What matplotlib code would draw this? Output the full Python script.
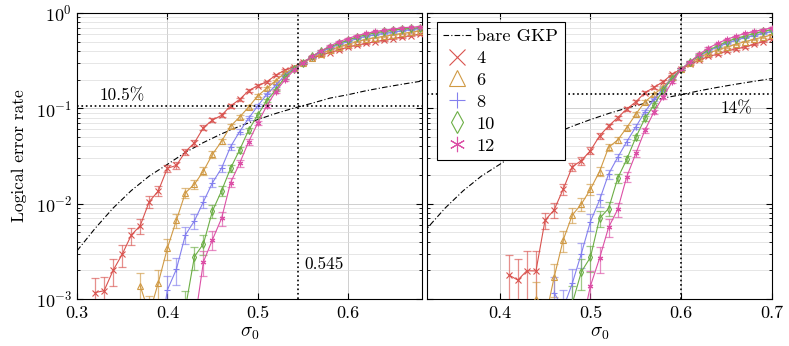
import numpy as np
import matplotlib
matplotlib.use('Agg')
import matplotlib.pyplot as plt
from matplotlib.lines import Line2D

plt.rcParams['font.family'] = 'serif'
plt.rcParams['font.serif'] = ['cmr10', 'DejaVu Serif']
plt.rcParams['mathtext.fontset'] = 'cm'
plt.rcParams['axes.formatter.use_mathtext'] = True
plt.rcParams['font.size'] = 12

# ---- data ----
sizes = ['4', '6', '8', '10', '12']
colors = ['#d9534f', '#d09a45', '#8480ee', '#6cae45', '#dc50a6']
markers = ['x', '^', '+', 'd', (6, 2, 0)]

# bare GKP curve
gkp_sigma = [0.30, 0.32, 0.34, 0.36, 0.38, 0.40, 0.42, 0.44, 0.46, 0.48, 0.50,
             0.52, 0.54, 0.56, 0.58, 0.60, 0.62, 0.64, 0.66, 0.68, 0.70]
gkp_rate = [0.0032, 0.0055, 0.0090, 0.0137, 0.0195, 0.0258, 0.0345, 0.0438,
            0.0540, 0.0649, 0.0762, 0.0883, 0.1006, 0.113, 0.128, 0.139,
            0.153, 0.166, 0.179, 0.192, 0.2055]

# left panel
left_start = [0.32, 0.37, 0.39, 0.41, 0.43]
left_rates = [
    [1.17e-3, 1.22e-3, 2.0e-3, 2.94e-3, 4.66e-3, 5.9e-3, 0.0105, 0.0136, 0.0235,
     0.0252, 0.0351, 0.0436, 0.0627, 0.0755, 0.0845, 0.106, 0.124, 0.153, 0.173,
     0.19, 0.222, 0.252, 0.273, 0.305, 0.335, 0.36, 0.385, 0.41, 0.44, 0.46,
     0.48, 0.50, 0.52, 0.54, 0.56, 0.58, 0.60],
    [1.37e-3, 7e-4, 1.48e-3, 3.4e-3, 6.7e-3, 0.013, 0.016, 0.022, 0.033, 0.045,
     0.065, 0.081, 0.103, 0.135, 0.162, 0.195, 0.235, 0.265, 0.30, 0.34, 0.375,
     0.41, 0.44, 0.47, 0.50, 0.53, 0.55, 0.57, 0.59, 0.61, 0.63, 0.65],
    [3e-4, 1.24e-3, 2.05e-3, 4.7e-3, 6.6e-3, 0.0105, 0.0166, 0.0235, 0.0396,
     0.057, 0.0785, 0.106, 0.14, 0.174, 0.222, 0.262, 0.30, 0.345, 0.39, 0.43,
     0.47, 0.50, 0.54, 0.57, 0.59, 0.61, 0.63, 0.65, 0.67, 0.69],
    [6e-4, 8e-4, 2.78e-3, 3.8e-3, 8.4e-3, 0.0136, 0.0235, 0.0366, 0.059, 0.085,
     0.12, 0.156, 0.211, 0.258, 0.30, 0.35, 0.40, 0.44, 0.48, 0.52, 0.56, 0.59,
     0.62, 0.64, 0.66, 0.68, 0.69, 0.70],
    [5.5e-4, 2.46e-3, 4.2e-3, 7.0e-3, 0.0166, 0.0265, 0.0446, 0.0697, 0.106,
     0.15, 0.198, 0.25, 0.30, 0.35, 0.40, 0.45, 0.50, 0.54, 0.58, 0.61, 0.64,
     0.66, 0.68, 0.70, 0.71, 0.72],
]
left_shots = [5000, 5000, 5000, 5000, 5000]

# right panel
right_start = [0.41, 0.44, 0.46, 0.48, 0.49]
right_rates = [
    [1.79e-3, 1.58e-3, 1.98e-3, 1.97e-3, 6.7e-3, 8.6e-3, 0.0142, 0.0244, 0.0283,
     0.036, 0.0513, 0.0653, 0.0798, 0.0984, 0.117, 0.146, 0.166, 0.19, 0.229,
     0.257, 0.29, 0.32, 0.35, 0.37, 0.40, 0.42, 0.44, 0.47, 0.50, 0.54],
    [1.0e-3, 6e-4, 1.69e-3, 4.16e-3, 7.6e-3, 9.9e-3, 0.0142, 0.0217, 0.039,
     0.0466, 0.0627, 0.087, 0.117, 0.141, 0.166, 0.211, 0.257, 0.30, 0.34, 0.38,
     0.41, 0.44, 0.47, 0.50, 0.53, 0.56, 0.59],
    [1.16e-3, 8e-4, 1.46e-3, 3.0e-3, 6.5e-3, 0.0109, 0.0205, 0.0306, 0.0447,
     0.064, 0.092, 0.124, 0.161, 0.21, 0.257, 0.31, 0.355, 0.40, 0.44, 0.48,
     0.52, 0.55, 0.58, 0.61, 0.64],
    [9e-4, 1.93e-3, 2.74e-3, 7.0e-3, 8.9e-3, 0.0185, 0.0292, 0.0497, 0.0785,
     0.108, 0.156, 0.205, 0.257, 0.31, 0.36, 0.41, 0.45, 0.50, 0.54, 0.57, 0.61,
     0.64, 0.67],
    [5e-4, 1.37e-3, 2.67e-3, 5.65e-3, 8.7e-3, 0.0192, 0.0337, 0.059, 0.092,
     0.132, 0.19, 0.257, 0.31, 0.37, 0.43, 0.48, 0.53, 0.57, 0.61, 0.64, 0.67,
     0.70],
]
right_shots_red = [1400, 1400, 1400, 1400]
right_shots = 4000


def draw_panel(ax, starts, rates, shots, first_shots=None):
    ax.set_yscale('log')
    for i in range(len(sizes)):
        p = np.array(rates[i])
        x = np.round(starts[i] + 0.01 * np.arange(len(p)), 2)
        n = np.full(len(p), float(shots[i] if np.ndim(shots) else shots))
        if first_shots is not None and i == 0:
            n[:len(first_shots)] = first_shots
        err = np.sqrt(p * (1 - p) / n)
        lo = np.minimum(err, p * 0.999)
        ax.errorbar(x, p, yerr=[lo, err], fmt='none', ecolor=colors[i],
                    alpha=0.65, elinewidth=0.9, capsize=3, capthick=0.9, zorder=3)
        ax.plot(x, p, color=colors[i], lw=0.8, marker=markers[i], ms=4,
                mew=0.8, mfc='none', zorder=4)
    ax.grid(True, which='major', color='#c8c8c8', lw=0.6)
    ax.grid(True, which='minor', axis='y', color='#dcdcdc', lw=0.5)
    ax.tick_params(which='both', direction='in', top=True, right=True,
                   labelsize=13)
    ax.tick_params(which='major', length=4)
    ax.tick_params(which='minor', length=2)
    ax.tick_params(axis='x', pad=5)
    ax.set_ylim(1e-3, 1)
    ax.set_xlabel(r'$\sigma_0$', fontsize=14, labelpad=2)


fig = plt.figure(figsize=(7.89, 3.46), dpi=100)
ax1 = fig.add_axes([0.0976, 0.1358, 0.4373, 0.8266])
ax2 = fig.add_axes([0.5412, 0.1358, 0.4373, 0.8266], sharey=ax1)

draw_panel(ax1, left_start, left_rates, left_shots)
draw_panel(ax2, right_start, right_rates, right_shots, right_shots_red)

for ax in (ax1, ax2):
    ax.plot(gkp_sigma, gkp_rate, color='black', lw=0.8, ls=(0, (5, 2, 1, 2)),
            zorder=2)

# left panel
ax1.set_xlim(0.3, 0.682)
ax1.set_xticks([0.3, 0.4, 0.5, 0.6])
ax1.set_xticklabels(['0.3', '0.4', '0.5', '0.6'])
ax1.axhline(0.105, color='black', ls=':', lw=1.2, zorder=5)
ax1.axvline(0.545, color='black', ls=':', lw=1.2, zorder=5)
ax1.text(0.325, 0.137, '10.5%', va='center', ha='left', fontsize=12.5)
ax1.text(0.552, 2.3e-3, '0.545', va='center', ha='left', fontsize=12.5)
ax1.set_ylabel('Logical error rate', fontsize=12.5, labelpad=6)

# right panel
ax2.set_xlim(0.32, 0.70)
ax2.set_xticks([0.4, 0.5, 0.6, 0.7])
ax2.set_xticklabels(['0.4', '0.5', '0.6', '0.7'])
ax2.tick_params(labelleft=False)
ax2.axhline(0.14, color='black', ls=':', lw=1.2, zorder=5)
ax2.axvline(0.6, color='black', ls=':', lw=1.2, zorder=5)
ax2.text(0.661, 0.10, '14%', va='center', ha='center', fontsize=12.5)

handles = [Line2D([], [], color='black', lw=0.8, ls=(0, (5, 2, 1, 2)))]
for i in range(len(sizes)):
    handles.append(Line2D([], [], color=colors[i], ls='none', marker=markers[i],
                          ms=11, mew=0.8, mfc='none'))
leg = ax2.legend(handles, ['bare GKP'] + sizes, loc='upper left',
                 bbox_to_anchor=(0.029, 0.969), borderaxespad=0,
                 fancybox=False, edgecolor='black', framealpha=1,
                 handlelength=1.5, handletextpad=0.3, borderpad=0.35,
                 labelspacing=0.33, fontsize=13.2)
leg.get_frame().set_linewidth(0.8)
leg.set_zorder(10)

fig.savefig('out.png', dpi=100)
